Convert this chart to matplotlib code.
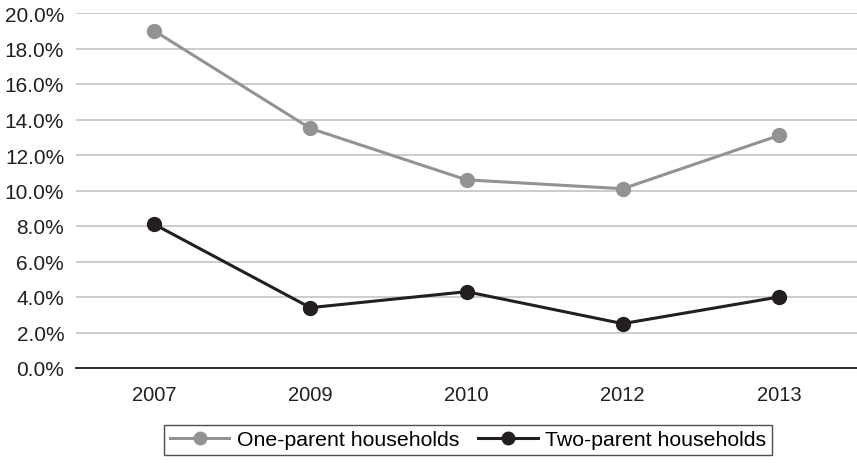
import matplotlib.pyplot as plt
from matplotlib.ticker import FuncFormatter

years = ["2007", "2009", "2010", "2012", "2013"]
one_parent = [19.0, 13.5, 10.6, 10.1, 13.1]
two_parent = [8.1, 3.4, 4.3, 2.5, 4.0]
yticks = [0, 2, 4, 6, 8, 10, 12, 14, 16, 18, 20]

plt.rcParams['font.family'] = ['Liberation Sans', 'DejaVu Sans']

fig = plt.figure(figsize=(8.57, 4.64), dpi=100)
ax = fig.add_axes([76/857, 1 - 369/464, (857 - 76)/857, (369 - 14)/464])

x = list(range(len(years)))
ax.plot(x, one_parent, color='#939393', lw=2.2, marker='o', ms=10,
        label='One-parent households', zorder=3)
ax.plot(x, two_parent, color='#231f20', lw=2.2, marker='o', ms=10,
        label='Two-parent households', zorder=3)

ax.set_xlim(-0.5, len(years) - 0.5)
ax.set_ylim(0, 20)
ax.set_yticks(yticks)
ax.yaxis.set_major_formatter(FuncFormatter(lambda v, p: f"{v:.1f}%"))
ax.set_xticks(x)
ax.set_xticklabels(years)
ax.grid(axis='y', color='#c8c8c8', lw=1.3)
ax.set_axisbelow(True)
for s in ['top', 'right', 'left']:
    ax.spines[s].set_visible(False)
ax.spines['bottom'].set_color('#231f20')
ax.spines['bottom'].set_linewidth(1.3)
ax.tick_params(axis='both', length=0, colors='#231f20')
ax.tick_params(axis='x', pad=12, labelsize=14.5)
ax.tick_params(axis='y', pad=8.5, labelsize=15)

leg = fig.legend(loc='center', bbox_to_anchor=(468/857, 1 - 441/464), ncol=2,
                 frameon=True, fancybox=False, edgecolor='#231f20',
                 fontsize=15.3, handlelength=2.8, columnspacing=0.9,
                 borderpad=0.25, handletextpad=0.35, markerscale=0.9)
leg.get_frame().set_linewidth(1.0)

fig.savefig('out.png', dpi=100)
